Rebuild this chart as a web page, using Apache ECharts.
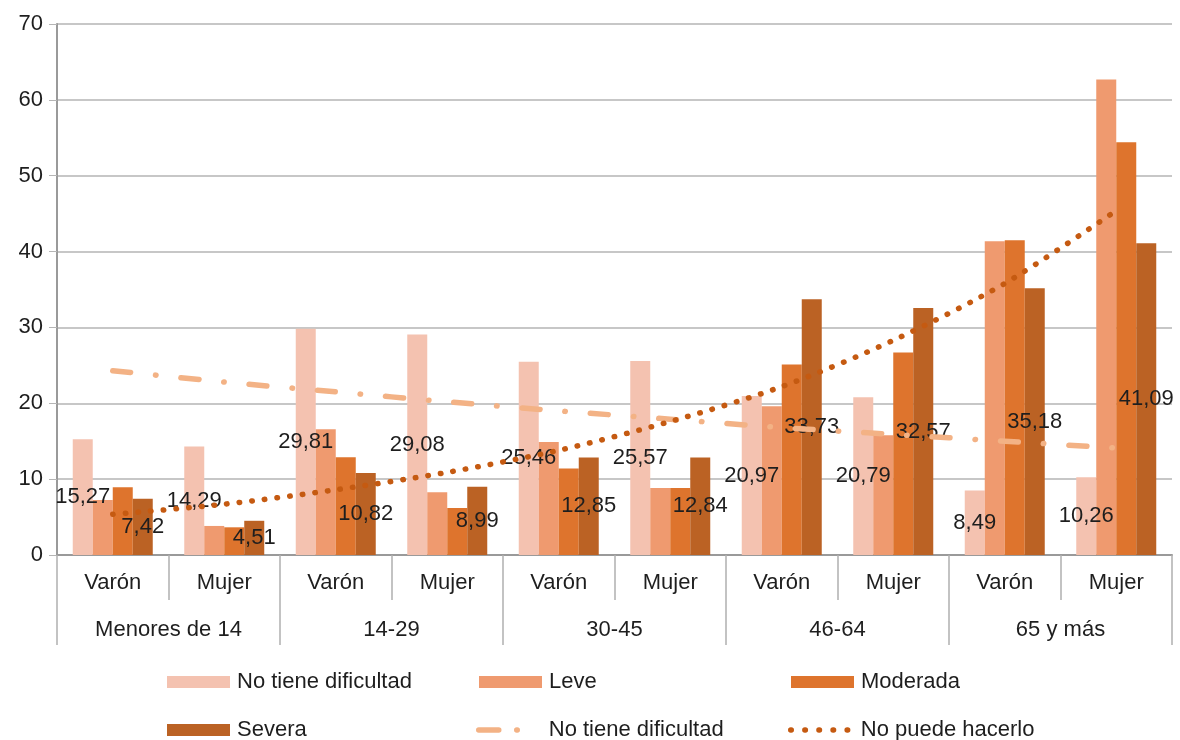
<!DOCTYPE html>
<html>
<head>
<meta charset="utf-8">
<script src="https://cdn.jsdelivr.net/npm/echarts@6/dist/echarts.min.js"></script>
<style>
  html, body { margin: 0; padding: 0; background: #fff; }
  #chart { width: 1180px; height: 740px; }
</style>
</head>
<body>
<div id="chart"></div>
<script>
// categorias (sexo) y grupos de edad
const categories = ['Varón', 'Mujer', 'Varón', 'Mujer', 'Varón', 'Mujer', 'Varón', 'Mujer', 'Varón', 'Mujer'];
const groups = ['Menores de 14', '14-29', '30-45', '46-64', '65 y más'];
const yTicks = [0, 10, 20, 30, 40, 50, 60, 70];

const noTiene = [15.27, 14.29, 29.81, 29.08, 25.46, 25.57, 20.97, 20.79, 8.49, 10.26];
const leve = [7.26, 3.83, 16.58, 8.27, 14.9, 8.84, 19.6, 15.8, 41.35, 62.7];
const moderada = [8.93, 3.65, 12.89, 6.2, 11.4, 8.84, 25.1, 26.7, 41.5, 54.4];
const severa = [7.42, 4.51, 10.82, 8.99, 12.85, 12.84, 33.73, 32.57, 35.18, 41.09];
// lineas de tendencia
const tendNoTiene = [24.3, 22.8, 21.5, 20.2, 19.0, 17.9, 16.8, 15.9, 15.0, 14.1];
const tendNoPuede = [5.37, 6.7, 8.6, 10.9, 13.8, 17.6, 22.2, 28.3, 35.8, 45.4];

const font = 'Liberation Sans, Arial, sans-serif';
const txt = '#1e1e1e';
const fmt = p => p.value.toFixed(2).replace('.', ',');

const dashDot = { color: '#F3B285', width: 5.5, type: [18, 25, 0.5, 25], cap: 'round' };
const dotted = { color: '#C55A11', width: 5.5, type: [0.5, 12.2], cap: 'round' };

const chart = echarts.init(document.getElementById('chart'));

function leg(name, left, top, icon, line) {
  const l = {
    data: [name],
    left: left,
    top: top,
    itemWidth: 63,
    itemHeight: 12,
    itemGap: 0,
    selectedMode: false,
    textStyle: { fontFamily: font, fontSize: 22, color: txt, padding: [0, 0, 0, 2] }
  };
  if (icon) l.icon = icon;
  if (line) {
    l.itemStyle = { opacity: 0 };
    l.lineStyle = line;
  }
  return l;
}

const barLabel = {
  show: true,
  position: 'inside',
  formatter: fmt,
  fontFamily: font,
  fontSize: 22,
  color: txt
};

chart.setOption({
  animation: false,
  grid: { left: 57, right: 8, top: 24, bottom: 185 },
  legend: [
    leg('No tiene dificultad', 162, 666, 'rect'),
    leg('Leve', 474, 666, 'rect'),
    leg('Moderada', 786, 666, 'rect'),
    leg('Severa', 162, 714, 'rect'),
    leg('No tiene dificultad ', 471, 714, null, Object.assign({}, dashDot, { type: [20, 18, 0.5, 30] })),
    leg('No puede hacerlo', 783, 714, null, Object.assign({}, dotted, { type: [0.5, 13.6] }))
  ],
  xAxis: [
    {
      type: 'category',
      data: categories,
      position: 'bottom',
      axisLine: { show: true, lineStyle: { color: '#9a9a9a', width: 2 } },
      axisTick: { show: true, interval: 0, length: 45, lineStyle: { color: '#b0b0b0', width: 1.5 } },
      axisLabel: { margin: 17, fontFamily: font, fontSize: 22, color: txt, interval: 0 }
    },
    {
      type: 'category',
      data: groups,
      position: 'bottom',
      axisLine: { show: false },
      axisTick: { show: true, interval: 0, length: 90, lineStyle: { color: '#b0b0b0', width: 1.5 } },
      axisLabel: { margin: 64, fontFamily: font, fontSize: 22, color: txt, interval: 0 }
    }
  ],
  yAxis: {
    type: 'value',
    min: yTicks[0],
    max: yTicks[yTicks.length - 1],
    interval: 10,
    axisLine: { show: true, lineStyle: { color: '#9a9a9a', width: 2 } },
    axisTick: { show: true, length: 8, lineStyle: { color: '#b5b5b5' } },
    axisLabel: { margin: 14, fontFamily: font, fontSize: 22, color: txt },
    splitLine: { lineStyle: { color: '#b5b5b5', width: 1.5 } }
  },
  series: [
    {
      name: 'No tiene dificultad', type: 'bar', data: noTiene,
      barWidth: 20, barGap: '0%',
      itemStyle: { color: '#F4C2B0' },
      label: barLabel, z: 2
    },
    {
      name: 'Leve', type: 'bar', data: leve,
      barWidth: 20, barGap: '0%',
      itemStyle: { color: '#EF9A6F' }, z: 2
    },
    {
      name: 'Moderada', type: 'bar', data: moderada,
      barWidth: 20, barGap: '0%',
      itemStyle: { color: '#DE742D' }, z: 2
    },
    {
      name: 'Severa', type: 'bar', data: severa,
      barWidth: 20, barGap: '0%',
      itemStyle: { color: '#BB6224' },
      label: barLabel, z: 2
    },
    {
      name: 'No tiene dificultad ', type: 'line', data: tendNoTiene,
      smooth: 0.3, symbol: 'none', z: 4,
      lineStyle: dashDot,
      itemStyle: { color: '#F3B285' }
    },
    {
      name: 'No puede hacerlo', type: 'line', data: tendNoPuede,
      smooth: 0.3, symbol: 'none', z: 4,
      lineStyle: dotted,
      itemStyle: { color: '#C55A11' }
    }
  ]
});
</script>
</body>
</html>
